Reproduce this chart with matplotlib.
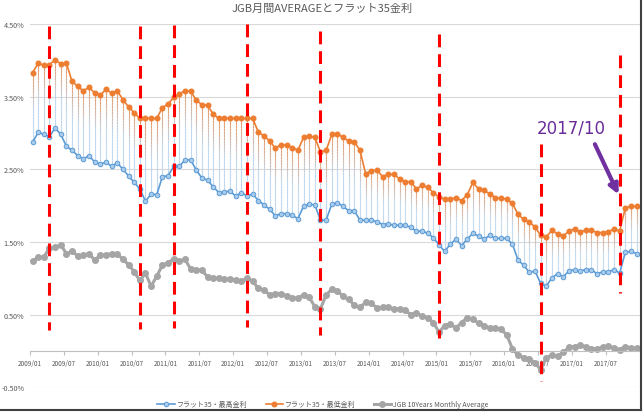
import numpy as np
import matplotlib
matplotlib.use("Agg")
import matplotlib.pyplot as plt
from matplotlib.collections import LineCollection
from matplotlib.lines import Line2D
from matplotlib.colors import to_rgb

plt.rcParams['font.family'] = ['Noto Sans CJK JP', 'DejaVu Sans']
plt.rcParams['lines.scale_dashes'] = False

# monthly labels 2009/01 .. 2017/12
months = [f"{2009 + i // 12}/{i % 12 + 1:02d}" for i in range(108)]

# フラット35 (upper series, orange)
flat_low = [3.83, 3.96, 3.93, 3.94, 4.01, 3.95, 3.96, 3.71, 3.64, 3.58, 3.63, 3.55,
            3.52, 3.60, 3.55, 3.58, 3.46, 3.36, 3.28, 3.20, 3.20, 3.20, 3.20, 3.35,
            3.40, 3.49, 3.54, 3.58, 3.58, 3.45, 3.39, 3.38, 3.26, 3.20,
            3.20, 3.20, 3.20, 3.20, 3.20, 3.20, 3.01, 2.96, 2.89, 2.79, 2.84, 2.83,
            2.80, 2.76, 2.94, 2.96, 2.94, 2.74, 2.76, 2.98, 2.99, 2.94, 2.89, 2.88,
            2.76, 2.44, 2.48, 2.49, 2.40, 2.43, 2.43, 2.37, 2.33, 2.33, 2.23,
            2.28, 2.25, 2.18, 2.12, 2.09, 2.09, 2.11, 2.07, 2.15, 2.32, 2.23, 2.21,
            2.16, 2.11, 2.10, 2.09, 2.03, 1.88, 1.81, 1.77, 1.71, 1.59, 1.57, 1.66,
            1.61, 1.58, 1.65, 1.68, 1.64, 1.66, 1.66, 1.63, 1.63, 1.64, 1.68, 1.65,
            1.97, 1.99, 1.99]

# フラット35 (lower series, blue)
flat_high = [2.87, 3.01, 2.98, 2.95, 3.07, 2.98, 2.82, 2.76, 2.69, 2.64, 2.69, 2.60,
             2.57, 2.60, 2.54, 2.59, 2.50, 2.41, 2.32, 2.23, 2.06, 2.16, 2.15, 2.40,
             2.41, 2.54, 2.54, 2.63, 2.63, 2.49, 2.38, 2.35, 2.26, 2.18,
             2.19, 2.20, 2.13, 2.18, 2.13, 2.16, 2.07, 2.01, 1.95, 1.86, 1.89, 1.89,
             1.87, 1.82, 1.99, 2.02, 2.01, 1.80, 1.80, 2.02, 2.04, 1.99, 1.93, 1.93,
             1.80, 1.80, 1.80, 1.78, 1.74, 1.75, 1.73, 1.73, 1.73, 1.70, 1.65,
             1.65, 1.62, 1.56, 1.46, 1.37, 1.47, 1.54, 1.45, 1.54, 1.62, 1.58, 1.54,
             1.59, 1.55, 1.55, 1.55, 1.47, 1.25, 1.18, 1.08, 1.10, 0.93, 0.89, 1.01,
             1.06, 1.02, 1.10, 1.12, 1.10, 1.12, 1.12, 1.06, 1.09, 1.09, 1.12, 1.07,
             1.36, 1.37, 1.34]

# JGB 10Y monthly average
jgb = [1.24, 1.29, 1.29, 1.42, 1.43, 1.46, 1.34, 1.37, 1.31, 1.32, 1.34, 1.25,
       1.32, 1.32, 1.34, 1.34, 1.26, 1.19, 1.09, 0.97, 1.07, 0.89, 1.03, 1.18,
       1.21, 1.27, 1.24, 1.26, 1.13, 1.12, 1.11, 1.02, 1.00, 1.00,
       0.99, 0.99, 0.97, 0.96, 1.00, 0.96, 0.86, 0.84, 0.77, 0.79, 0.79, 0.76,
       0.73, 0.73, 0.77, 0.74, 0.61, 0.58, 0.77, 0.85, 0.83, 0.75, 0.71, 0.63,
       0.60, 0.67, 0.66, 0.59, 0.60, 0.60, 0.58, 0.58, 0.56, 0.50, 0.52,
       0.48, 0.46, 0.39, 0.26, 0.35, 0.37, 0.32, 0.39, 0.46, 0.44, 0.38, 0.35,
       0.31, 0.31, 0.30, 0.22, 0.03, -0.06, -0.09, -0.11, -0.16, -0.26, -0.09, -0.06,
       -0.07, -0.02, 0.05, 0.06, 0.08, 0.06, 0.03, 0.03, 0.05, 0.07, 0.04, 0.02,
       0.06, 0.04, 0.04]

# hand drawn red markers (month index, top, bottom)
red_idx = [3, 19, 25, 38, 51, 72, 90, 104]
red_top = [4.47, 4.47, 4.48, 4.50, 4.40, 4.36, 2.85, 4.07]
red_bot = [0.29, 0.30, 0.31, 0.33, 0.22, 0.18, -0.41, 0.80]

yticks = [-0.5, 0.5, 1.5, 2.5, 3.5, 4.5]

fig = plt.figure(figsize=(6.44, 4.14), dpi=100)
ax = fig.add_axes([30 / 644, 1 - 388.3 / 414, 610 / 644, 363.3 / 414])
x = np.arange(len(months))

# spine first, it resets the ticks
for s in ['top', 'right', 'left']:
    ax.spines[s].set_visible(False)
ax.spines['bottom'].set_position(('data', 0))
ax.spines['bottom'].set_color('#BFBFBF')
ax.spines['bottom'].set_linewidth(0.8)

# high-low lines with orange -> light blue fade
top_c = np.array(to_rgb('#E9925A'))
bot_c = np.array(to_rgb('#BDD7EE'))
segs, cols = [], []
n = 24
for i in x:
    ys = np.linspace(flat_low[i], flat_high[i], n + 1)
    for k in range(n):
        t = min(1.0, ((k + 0.5) / n) / 0.55)
        segs.append([(i, ys[k]), (i, ys[k + 1])])
        cols.append(top_c * (1 - t) + bot_c * t)
ax.add_collection(LineCollection(segs, colors=cols, linewidths=0.8, zorder=1.5))

ax.plot(x, flat_high, color='#5B9BD5', lw=1.2, marker='o', ms=3.3,
        mfc='#A9CCEC', mec='#5B9BD5', mew=0.7, label='フラット35・最高金利')
ax.plot(x, flat_low, color='#ED7D31', lw=1.2, marker='o', ms=3.3,
        label='フラット35・最低金利')
ax.plot(x, jgb, color='#A5A5A5', lw=2.2, marker='o', ms=4,
        label='JGB 10Years Monthly Average')

# dashes in points: ~13px on, ~7px off
for xi, t, b in zip(red_idx, red_top, red_bot):
    ax.plot([xi, xi], [t, b], color='#FF0000', lw=2.2, linestyle=(0, (9.2, 5.0)), zorder=4)

ax.annotate('', xy=(104.0, 2.12), xytext=(99.4, 2.88),
            arrowprops=dict(arrowstyle='-|>', color='#7030A0', lw=3, mutation_scale=14),
            zorder=5)
ax.text(95.5, 3.08, '2017/10', color='#6A2C9A', fontsize=12, ha='center', va='center',
        family='DejaVu Sans', zorder=5)

ax.set_xlim(-0.41, 107.6)
ax.set_ylim(-0.5, 4.5)
ax.set_yticks(yticks)
ax.set_yticklabels([f"{v:.2f}%" for v in yticks])
ax.yaxis.grid(True, color='#D9D9D9', lw=0.8)
ax.set_axisbelow(True)
ax.tick_params(axis='y', length=0, pad=4, labelsize=5.2, labelcolor='#595959')

xt = np.arange(0, 108, 6)
ax.set_xticks(xt - 0.45)
ax.set_xticklabels([months[i] for i in xt])
ax.tick_params(axis='x', length=3, color='#BFBFBF', pad=3, labelsize=4.6,
               labelcolor='#595959')

fig.text(322 / 644, 1 - 9 / 414, 'JGB月間AVERAGEとフラット35金利', ha='center', va='center',
         fontsize=8, color='#595959')

fig.legend(loc='center', bbox_to_anchor=(323 / 644, 1 - 405.5 / 414), ncol=3,
           frameon=False, fontsize=5, handlelength=2.5, handletextpad=0.3,
           columnspacing=2.6, labelcolor='#595959')

# screenshot border / shadow
fig.add_artist(Line2D([641 / 644, 641 / 644], [1 - 411 / 414, 1], transform=fig.transFigure,
                      color='#404040', lw=1.5))
fig.add_artist(Line2D([0, 641 / 644], [1 - 410.5 / 414] * 2, transform=fig.transFigure,
                      color='#404040', lw=1.5))

fig.savefig('out.png', dpi=100)
